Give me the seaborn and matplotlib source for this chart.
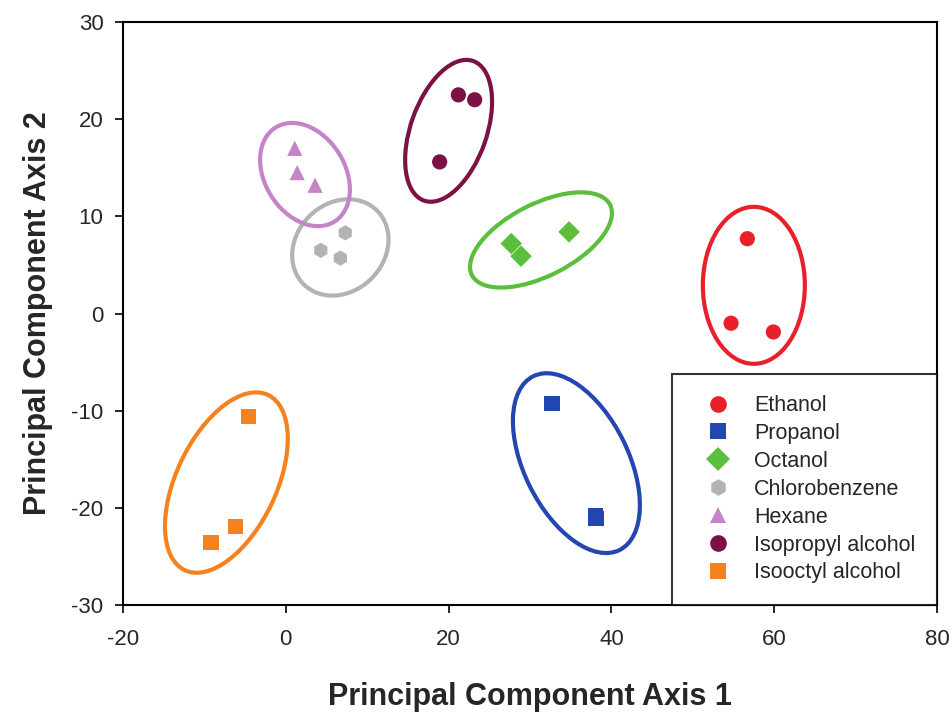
import matplotlib
matplotlib.use("Agg")
import matplotlib.pyplot as plt
from matplotlib.patches import Ellipse
from matplotlib.transforms import ScaledTranslation
import seaborn as sns
import pandas as pd

# ---- data ----
solvents = ["Ethanol", "Propanol", "Octanol", "Chlorobenzene", "Hexane",
            "Isopropyl alcohol", "Isooctyl alcohol"]
pc1 = {
    "Ethanol": [56.7, 54.7, 59.9],
    "Propanol": [32.7, 38.0, 38.1],
    "Octanol": [27.7, 28.9, 34.8],
    "Chlorobenzene": [7.3, 4.3, 6.7],
    "Hexane": [1.1, 1.4, 3.6],
    "Isopropyl alcohol": [21.2, 23.2, 18.9],
    "Isooctyl alcohol": [-4.6, -6.2, -9.2],
}
pc2 = {
    "Ethanol": [7.7, -1.0, -1.9],
    "Propanol": [-9.3, -20.8, -21.1],
    "Octanol": [7.2, 5.9, 8.4],
    "Chlorobenzene": [8.3, 6.5, 5.7],
    "Hexane": [17.0, 14.5, 13.2],
    "Isopropyl alcohol": [22.5, 22.0, 15.6],
    "Isooctyl alcohol": [-10.6, -21.9, -23.6],
}
# ellipse centres (data units)
ell_cx = [57.5, 35.7, 31.35, 6.7, 2.36, 20.0, -7.3]
ell_cy = [2.9, -15.4, 7.57, 6.8, 14.3, 18.8, -17.4]
x_ticks = [-20, 0, 20, 40, 60, 80]
y_ticks = [-30, -20, -10, 0, 10, 20, 30]

# ---- styles ----
colors = {
    "Ethanol": "#E8202A",
    "Propanol": "#2446B0",
    "Octanol": "#5BBE3C",
    "Chlorobenzene": "#B3B3B3",
    "Hexane": "#C684C8",
    "Isopropyl alcohol": "#7B1243",
    "Isooctyl alcohol": "#F5821F",
}
markers = {
    "Ethanol": "o",
    "Propanol": "s",
    "Octanol": "D",
    "Chlorobenzene": "h",
    "Hexane": "^",
    "Isopropyl alcohol": "o",
    "Isooctyl alcohol": "s",
}
# ellipse shape in pixels: semi-major, semi-minor, angle (deg)
ell_a = [78.5, 97, 77.5, 52, 55.5, 74, 97]
ell_b = [51, 52, 36, 44, 40, 38, 50]
ell_ang = [90, 116.4, 27, 45, 122, 70.6, 64.6]

rows = []
for s in solvents:
    for x, y in zip(pc1[s], pc2[s]):
        rows.append({"PC1": x, "PC2": y, "Solvent": s})
df = pd.DataFrame(rows)

sns.set_theme(style="white")
plt.rcParams["font.family"] = ["Liberation Sans", "DejaVu Sans"]

fig = plt.figure(figsize=(9.52, 7.15), dpi=100)
ax = fig.add_axes([123 / 952, 1 - 605 / 715, (937 - 123) / 952, (605 - 22) / 715])

sns.scatterplot(data=df, x="PC1", y="PC2", hue="Solvent", style="Solvent",
                hue_order=solvents, style_order=solvents,
                palette=colors, markers=markers, s=120, linewidth=0,
                ax=ax, zorder=3)

for i, s in enumerate(solvents):
    tr = fig.dpi_scale_trans + ScaledTranslation(ell_cx[i], ell_cy[i], ax.transData)
    e = Ellipse((0, 0), 2 * ell_a[i] / 100, 2 * ell_b[i] / 100, angle=ell_ang[i],
                transform=tr, fill=False, edgecolor=colors[s], linewidth=3, zorder=2)
    ax.add_patch(e)

ax.set_xlim(-20, 80)
ax.set_ylim(-30, 30)
ax.set_xticks(x_ticks)
ax.set_yticks(y_ticks)
ax.set_xticklabels([str(t) for t in x_ticks], fontsize=16)
ax.set_yticklabels([str(t) for t in y_ticks], fontsize=16)
ax.tick_params(axis="x", direction="out", length=6, width=1.2, color="black",
               bottom=True, pad=11)
ax.tick_params(axis="y", direction="out", length=6, width=1.2, color="black",
               left=True, pad=8)
for sp in ax.spines.values():
    sp.set_visible(True)
    sp.set_color("black")
    sp.set_linewidth(1.5)

ax.set_xlabel("Principal Component Axis 1", fontsize=22, fontweight="bold", labelpad=23)
ax.set_ylabel("Principal Component Axis 2", fontsize=22, fontweight="bold", labelpad=13)

handles, labels = ax.get_legend_handles_labels()
for h in handles:
    try:
        h.set_markersize(12)
    except Exception:
        pass
leg = ax.legend(handles, labels, loc="lower right", fontsize=15.5, frameon=True,
                fancybox=False, edgecolor="black", borderaxespad=0, borderpad=1.0,
                labelspacing=0.32, handletextpad=0.6, handlelength=2.2)
leg.get_frame().set_linewidth(1.5)

fig.savefig("out.png", dpi=100)
